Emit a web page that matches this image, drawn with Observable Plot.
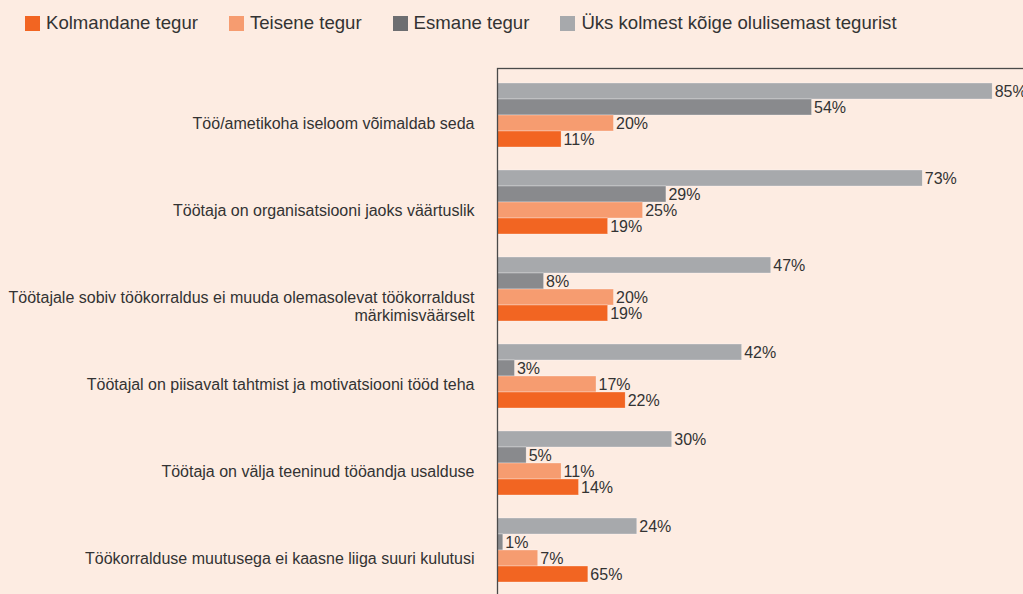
<!DOCTYPE html>
<html><head><meta charset="utf-8">
<script src="https://cdn.jsdelivr.net/npm/d3@7"></script>
<script src="https://cdn.jsdelivr.net/npm/@observablehq/plot@0.6"></script>
<style>
html,body{margin:0;padding:0;background:#fdece2;overflow:hidden;width:1023px;height:594px}
#legend{height:46px;display:flex;align-items:center;padding-left:25px;box-sizing:border-box;font:18.6px "Liberation Sans",Arial,sans-serif;color:#333}
.item{display:flex;align-items:center;margin-right:31px}
.sw{width:15px;height:15px;margin-right:6px}
#chart svg{display:block}
</style></head>
<body>
<div id="legend"></div>
<div id="chart"></div>
<script>
const categories = [
  "Töö/ametikoha iseloom võimaldab seda",
  "Töötaja on organisatsiooni jaoks väärtuslik",
  "Töötajale sobiv töökorraldus ei muuda olemasolevat töökorraldust\nmärkimisväärselt",
  "Töötajal on piisavalt tahtmist ja motivatsiooni tööd teha",
  "Töötaja on välja teeninud tööandja usalduse",
  "Töökorralduse muutusega ei kaasne liiga suuri kulutusi"
];
// series in drawing order within each group (top to bottom)
const seriesNames = ["Üks kolmest kõige olulisemast tegurist", "Esmane tegur", "Teisene tegur", "Kolmandane tegur"];
const uksKolmest = [85, 73, 47, 42, 30, 24];
const esmane     = [54, 29, 8, 3, 5, 1];
const teisene    = [20, 25, 20, 17, 11, 7];
const kolmandane = [11, 19, 19, 22, 14, 15.6];
const kolmandaneLabels = ["11%", "19%", "19%", "22%", "14%", "65%"];
const barColors = ["#a7a9ac", "#898a8d", "#f69c70", "#f26522"];
const legendColors = ["#a7a9ac", "#6d6e71", "#f69c70", "#f26522"];
const legendOrder = [3, 2, 1, 0];

const values = [uksKolmest, esmane, teisene, kolmandane];
const labels = [
  uksKolmest.map(v => v + "%"),
  esmane.map(v => v + "%"),
  teisene.map(v => v + "%"),
  kolmandaneLabels
];

const legend = document.getElementById("legend");
legendOrder.forEach(i => {
  const it = document.createElement("div");
  it.className = "item";
  it.innerHTML = `<span class="sw" style="background:${legendColors[i]}"></span><span>${seriesNames[i]}</span>`;
  legend.appendChild(it);
});

const marks = [];
values.forEach((vals, i) => {
  marks.push(Plot.barX(categories, {
    y: d => d, x: (d, j) => vals[j],
    fill: barColors[i], stroke: "#ffffff", strokeWidth: 0.5, strokeOpacity: 0.6,
    insetTop: 16 * i, insetBottom: 16 * (3 - i)
  }));
  marks.push(Plot.text(categories, {
    y: d => d, x: (d, j) => vals[j], text: (d, j) => labels[i][j],
    dx: 2, dy: -24 + 16 * i, textAnchor: "start", fontSize: 16, fill: "#333"
  }));
});
marks.push(Plot.text(categories, {
  y: d => d, text: d => d, frameAnchor: "left", dx: -23, textAnchor: "end",
  lineAnchor: "top", dy: 0.5, fontSize: 16, fill: "#333", lineHeight: 1.12
}));
marks.push(Plot.frame({stroke: "#4a4a4a", strokeWidth: 1.3, insetRight: -20, insetBottom: -20}));

const chart = Plot.plot({
  width: 1023, height: 550,
  marginLeft: 497, marginRight: 0, marginTop: 22, marginBottom: 0,
  x: {domain: [0, 90.3], axis: null},
  y: {domain: categories, axis: null, paddingInner: 0.266, paddingOuter: 0.155},
  style: {background: "transparent", overflow: "hidden", fontFamily: "'Liberation Sans', Arial, sans-serif", fontSize: "16px"},
  marks
});
document.getElementById("chart").appendChild(chart);
</script>
</body></html>
